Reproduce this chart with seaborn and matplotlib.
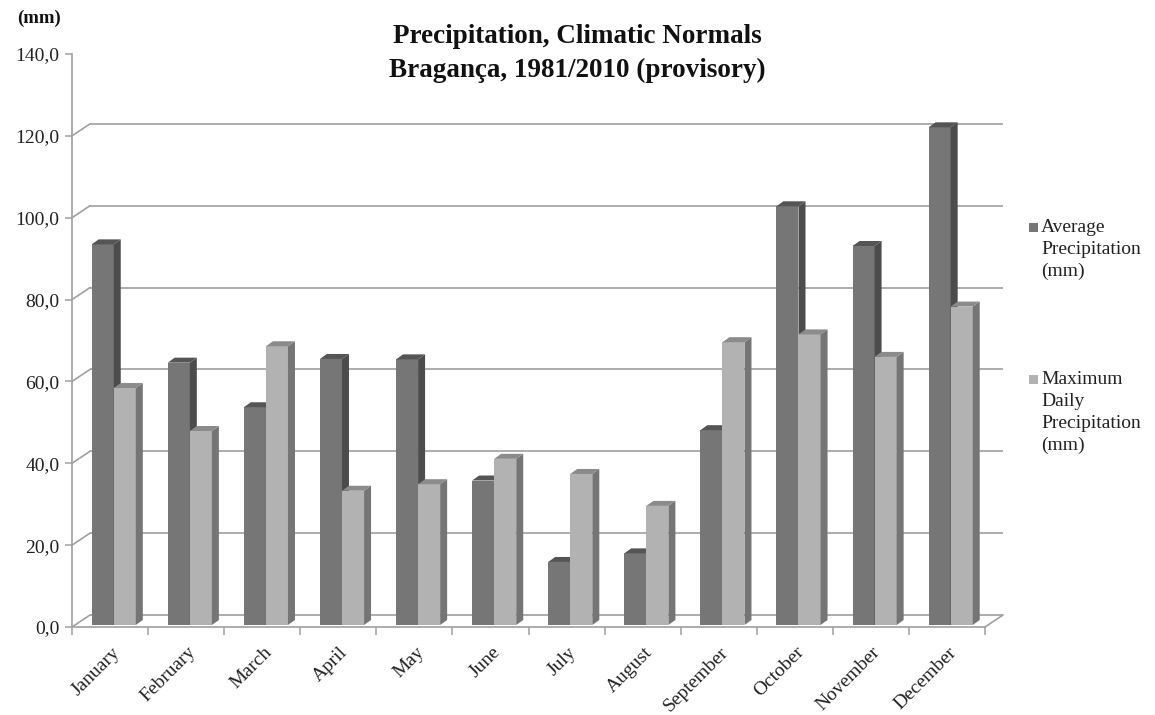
import numpy as np
import pandas as pd
import matplotlib
matplotlib.use("Agg")
import matplotlib.pyplot as plt
from matplotlib.patches import Polygon, Rectangle
from matplotlib.transforms import ScaledTranslation
import seaborn as sns

# ---- data -------------------------------------------------------------
months = ["January", "February", "March", "April", "May", "June",
          "July", "August", "September", "October", "November", "December"]
avg_precip = [93.0, 64.1, 53.2, 65.0, 64.9, 35.3, 15.4, 17.5, 47.6, 102.3, 92.6, 121.6]
max_daily = [57.9, 47.4, 68.1, 32.8, 34.4, 40.6, 36.9, 29.1, 69.1, 71.0, 65.5, 77.8]
series_names = ["Average Precipitation (mm)", "Maximum Daily Precipitation (mm)"]
legend_labels = ["Average\nPrecipitation\n(mm)", "Maximum\nDaily\nPrecipitation\n(mm)"]
y_ticks = [0, 20, 40, 60, 80, 100, 120, 140]
grid_values = [0, 20, 40, 60, 80, 100, 120]

# ---- styling ----------------------------------------------------------
sns.set_theme(style="white")
plt.rcParams["font.family"] = ["Liberation Serif", "DejaVu Serif"]

FRONT = {series_names[0]: "#767676", series_names[1]: "#b2b2b2"}
SIDE = {series_names[0]: "#4c4c4c", series_names[1]: "#757575"}
TOP = {series_names[0]: "#555555", series_names[1]: "#8b8b8b"}
LINE = "#a0a0a0"

DPI = 100
W, H = 1155, 715
fig = plt.figure(figsize=(W / DPI, H / DPI), dpi=DPI)

# front plane of the chart box, in pixels from the top-left corner
L, R, B, T = 72, 985, 627, 54
ax = fig.add_axes([L / W, 1 - B / H, (R - L) / W, (B - T) / H])

df = pd.DataFrame({
    "Month": months * 2,
    "Value": avg_precip + max_daily,
    "Series": [series_names[0]] * len(months) + [series_names[1]] * len(months),
})

sns.barplot(data=df, x="Month", y="Value", hue="Series", order=months,
            hue_order=series_names, palette=FRONT, width=0.58, saturation=1,
            legend=False, linewidth=0, ax=ax)

ax.set_xlim(-0.5, len(months) - 0.5)
ax.set_ylim(0, 140)
ax.set_xlabel("")
ax.set_ylabel("")

px_x = (R - L) / len(months)   # pixels per category
px_y = (B - T) / 140.0         # pixels per mm

# depth of the bars and of the back wall (pixel offsets turned into data units)
bar_dx, bar_dy = 7 / px_x, 5 / px_y
wall_dx, wall_dy = 18 / px_x, 12 / px_y

# bars sit a little behind the front plane
bar_tr = ax.transData + ScaledTranslation(3.7 / DPI, 2 / DPI, fig.dpi_scale_trans)

for k, (container, name) in enumerate(zip(ax.containers, series_names)):
    z = 3 + k
    for rect in container:
        rect.set_transform(bar_tr)
        rect.set_zorder(z)
        rect.set_clip_on(False)
        x0 = rect.get_x()
        x1 = x0 + rect.get_width()
        h = rect.get_height()
        side = Polygon([(x1, 0), (x1, h), (x1 + bar_dx, h + bar_dy), (x1 + bar_dx, bar_dy)],
                       closed=True, facecolor=SIDE[name], edgecolor="none",
                       transform=bar_tr, zorder=z, clip_on=False)
        top = Polygon([(x0, h), (x1, h), (x1 + bar_dx, h + bar_dy), (x0 + bar_dx, h + bar_dy)],
                      closed=True, facecolor=TOP[name], edgecolor="none",
                      transform=bar_tr, zorder=z, clip_on=False)
        ax.add_patch(side)
        ax.add_patch(top)

# back wall gridlines and the connectors to the value axis
x_left, x_right = -0.5, len(months) - 0.5
for v in grid_values:
    ax.plot([x_left + wall_dx, x_right + wall_dx], [v + wall_dy, v + wall_dy],
            color=LINE, lw=1.2, zorder=1, clip_on=False, solid_capstyle="butt")
    ax.plot([x_left, x_left + wall_dx], [v, v + wall_dy],
            color=LINE, lw=1.2, zorder=1, clip_on=False)
ax.plot([x_right, x_right + wall_dx], [0, wall_dy], color=LINE, lw=1.2,
        zorder=1, clip_on=False)

# axes frame
for s in ("top", "right"):
    ax.spines[s].set_visible(False)
for s in ("left", "bottom"):
    ax.spines[s].set_color(LINE)
    ax.spines[s].set_linewidth(1.2)
    ax.spines[s].set_zorder(2)

ax.set_yticks(y_ticks)
ax.set_yticklabels([f"{v:.1f}".replace(".", ",") for v in y_ticks], fontsize=14)
ax.tick_params(axis="y", which="major", left=True, length=5, width=1.1,
               color=LINE, pad=4, labelcolor="#222222")

ax.set_xticks(range(len(months)))
ax.set_xticklabels(months, rotation=45, ha="right", rotation_mode="anchor",
                   fontsize=14, color="#222222")
ax.set_xticks(np.arange(-0.5, len(months), 1.0), minor=True)
ax.tick_params(axis="x", which="major", bottom=True, length=0, pad=12)
ax.tick_params(axis="x", which="minor", bottom=True, length=6, width=1.1, color=LINE)
for lbl in ax.get_xticklabels():
    lbl.set_transform(lbl.get_transform() + ScaledTranslation(1 / DPI, 0, fig.dpi_scale_trans))

# titles
fig.text(0.5, 1 - 24 / H, "Precipitation, Climatic Normals\nBragança, 1981/2010 (provisory)",
         ha="center", va="top", fontsize=19.5, fontweight="bold", linespacing=1.45,
         color="#111111")
fig.text(17 / W, 1 - 18 / H, "(mm)", ha="left", va="center", fontsize=13.5,
         fontweight="bold", color="#111111")

# legend
legend_tops = [219, 371]
for name, text, ytop in zip(series_names, legend_labels, legend_tops):
    fig.add_artist(Rectangle((1029 / W, 1 - (ytop + 13) / H), 9 / W, 9 / H,
                             transform=fig.transFigure, facecolor=FRONT[name],
                             edgecolor="none"))
    fig.text(1041 / W, 1 - ytop / H, text, ha="left", va="top", fontsize=14,
             linespacing=1.38, color="#222222")

fig.savefig("out.png", dpi=DPI, facecolor="white")
